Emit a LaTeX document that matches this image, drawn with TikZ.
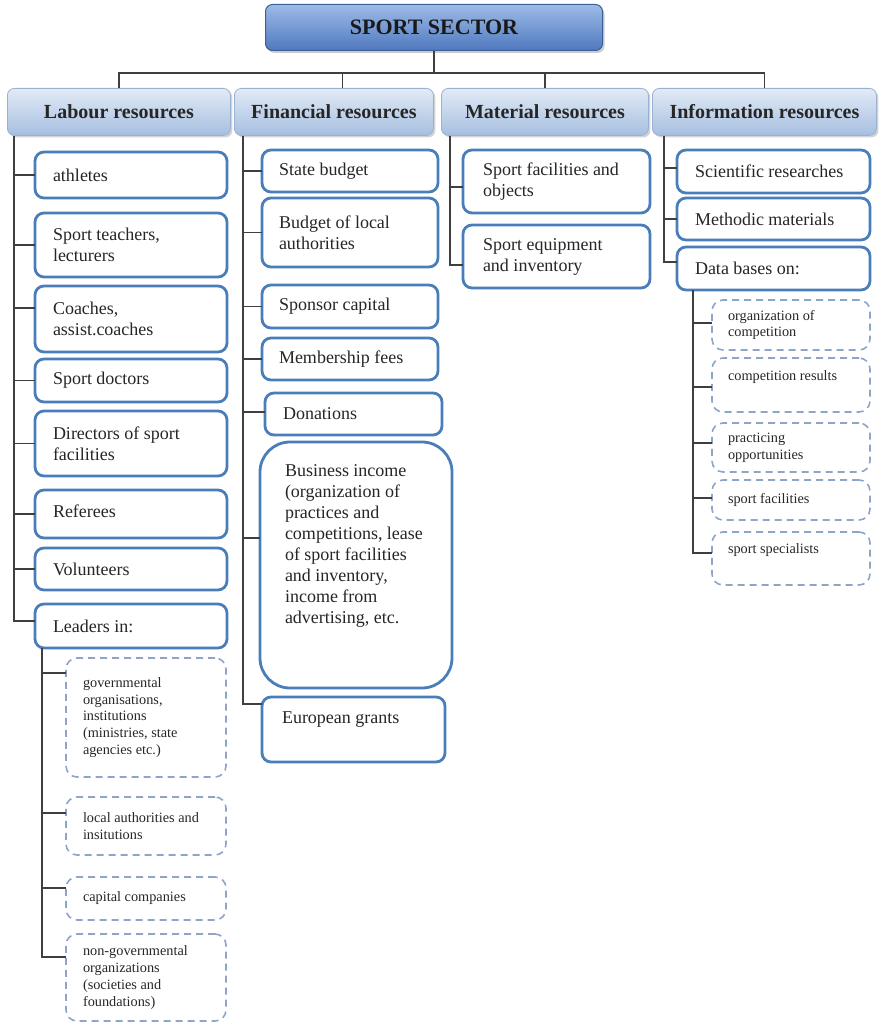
\documentclass[tikz,border=0pt]{standalone}
\usepackage{fontspec}
\setmainfont{Liberation Serif}
\usetikzlibrary{calc,shadows}
\definecolor{boxblue}{HTML}{4A7EBB}
\definecolor{dashblue}{HTML}{8DA5CB}
\definecolor{lnk}{HTML}{3F3F3F}
\definecolor{txt}{HTML}{262626}
\definecolor{hdrtop}{HTML}{E2EAF6}
\definecolor{hdrbot}{HTML}{A6BFE0}
\definecolor{hdrline}{HTML}{9AB1D2}
\definecolor{ttop}{HTML}{9DBBE8}
\definecolor{tbot}{HTML}{4F79BE}
\definecolor{tline}{HTML}{3C5F98}
\newcommand\drawbox[9]{%
  \node[#2, anchor=north west, inner sep=0pt, outer sep=0pt] (#1) at (#3,#4)
  {\hspace*{#7pt}\parbox[c][\dimexpr #6pt-#4pt\relax][c]{\dimexpr #5pt-#3pt-#7pt\relax}{\raggedright #9\par\vspace{#8pt}}};}
\begin{document}
\begin{tikzpicture}[x=1pt,y=-1pt,
  solid/.style={draw=boxblue, line width=2.8pt, rounded corners=9pt, fill=white, text=txt, font=\fontsize{18}{21}\selectfont},
  solidbig/.style={solid, rounded corners=30pt},
  dsh/.style={draw=dashblue, line width=1.6pt, dash pattern=on 7pt off 5pt, rounded corners=11pt, text=txt, font=\fontsize{14.3}{16.7}\selectfont},
  hdr/.style={draw=hdrline, line width=0.8pt, rounded corners=7pt, top color=hdrtop, bottom color=hdrbot, text=txt, font=\bfseries\fontsize{20}{22}\selectfont, anchor=north west, inner sep=0pt, drop shadow={opacity=0.35, shadow xshift=2pt, shadow yshift=-2pt}},
  titlebox/.style={draw=tline, line width=1pt, rounded corners=7pt, top color=ttop, bottom color=tbot, text=black!90, font=\bfseries\fontsize{22}{24}\selectfont, anchor=north west, inner sep=0pt, drop shadow={opacity=0.4, shadow xshift=2pt, shadow yshift=-2.5pt}},
  conn/.style={draw=lnk, line width=1.3pt}]
\useasboundingbox (0,0) rectangle (879,1024);

% title and headers
\node[titlebox, minimum width=337pt, minimum height=46pt] (title) at (265,4) {SPORT SECTOR};
\node[hdr, minimum width=223pt, minimum height=47pt] (lab) at (7,88) {Labour resources};
\node[hdr, minimum width=199pt, minimum height=47pt] (fin) at (234,88) {Financial resources};
\node[hdr, minimum width=207pt, minimum height=47pt] (mat) at (441,88) {Material resources};
\node[hdr, minimum width=224pt, minimum height=47pt] (inf) at (652,88) {Information resources};

\coordinate (bus) at ($(title.south)+(0,22)$);
\draw[conn] (title.south) -- (bus);
\draw[conn] (bus) -| (lab.north);
\draw[conn] (bus) -| ($(fin.north)+(8.5,0)$);
\draw[conn] (bus) -| (mat.north);
\draw[conn] (bus) -| (inf.north);

% labour
\drawbox{ath}{solid}{35}{152}{227}{198}{18}{0}{athletes}
\drawbox{teach}{solid}{35}{213}{227}{277}{18}{0}{Sport teachers,\\lecturers}
\drawbox{coach}{solid}{35}{286}{227}{352}{18}{0}{Coaches,\\assist.coaches}
\drawbox{doc}{solid}{35}{359}{227}{402}{18}{0}{Sport doctors}
\drawbox{dir}{solid}{35}{411}{227}{476}{18}{0}{Directors of sport\\facilities}
\drawbox{ref}{solid}{35}{490}{227}{538}{18}{6}{Referees}
\drawbox{vol}{solid}{35}{548}{227}{590}{18}{0}{Volunteers}
\drawbox{lead}{solid}{35}{604}{227}{648}{18}{0}{Leaders in:}

\drawbox{gov}{dsh}{66}{658}{226}{777}{17}{0}{governmental\\organisations,\\institutions\\(ministries, state\\agencies etc.)}
\drawbox{loc}{dsh}{66}{797}{226}{855}{17}{0}{local authorities and\\insitutions}
\drawbox{cap}{dsh}{66}{877}{226}{920}{17}{0}{capital companies}
\drawbox{ngo}{dsh}{66}{934}{226}{1021}{17}{0}{non-governmental\\organizations\\(societies and\\foundations)}

\coordinate (labT) at ($(lab.south west)+(7,0)$);
\draw[conn] (labT) |- (ath.west) (labT) |- (teach.west) (labT) |- ([yshift=-22pt]coach.north west)
  (labT) |- (doc.west) (labT) |- (dir.west) (labT) |- (ref.west) (labT) |- (vol.west)
  (labT) |- ([yshift=-17pt]lead.north west);
\coordinate (leadT) at ($(lead.south west)+(7,0)$);
\draw[conn] (leadT) |- ([yshift=-15pt]gov.north west) (leadT) |- ([yshift=-16pt]loc.north west)
  (leadT) |- ([yshift=-11pt]cap.north west) (leadT) |- ([yshift=-23pt]ngo.north west);

% financial
\drawbox{state}{solid}{262}{150}{438}{192}{17}{0}{State budget}
\drawbox{bloc}{solid}{262}{198}{438}{267}{17}{0}{Budget of local\\authorities}
\drawbox{spon}{solid}{262}{285}{438}{328}{17}{0}{Sponsor capital}
\drawbox{memb}{solid}{262}{338}{438}{380}{17}{0}{Membership fees}
\drawbox{don}{solid}{265}{393}{442}{435}{18}{0}{Donations}
\drawbox{busi}{solidbig}{260}{442}{452}{688}{25}{38}{Business income\\(organization of\\practices and\\competitions, lease\\of sport facilities\\and inventory,\\income from\\advertising, etc.}
\drawbox{eu}{solid}{262}{697}{445}{762}{20}{19}{European grants}

\coordinate (finT) at ($(fin.south west)+(9,0)$);
\draw[conn] (finT) |- (state.west) (finT) |- (bloc.west) (finT) |- (spon.west) (finT) |- (memb.west)
  (finT) |- ([yshift=-19pt]don.north west) (finT) |- ([yshift=-96pt]busi.north west)
  (finT) |- ([yshift=-7pt]eu.north west);

% material
\drawbox{fac}{solid}{463}{150}{650}{213}{20}{0}{Sport facilities and\\objects}
\drawbox{equip}{solid}{463}{225}{650}{288}{20}{0}{Sport equipment\\and inventory}
\coordinate (matT) at ($(mat.south west)+(9,0)$);
\draw[conn] (matT) |- ([yshift=-37pt]fac.north west) (matT) |- ([yshift=-40pt]equip.north west);

% information
\drawbox{sci}{solid}{677}{150}{870}{193}{18}{0}{Scientific researches}
\drawbox{meth}{solid}{677}{198}{870}{240}{18}{0}{Methodic materials}
\drawbox{data}{solid}{677}{247}{870}{290}{18}{0}{Data bases on:}
\drawbox{org}{dsh}{712}{300}{870}{350}{16}{0}{organization of\\competition}
\drawbox{res}{dsh}{712}{358}{870}{412}{16}{16}{competition results}
\drawbox{prac}{dsh}{712}{423}{870}{472}{16}{0}{practicing\\opportunities}
\drawbox{sfac}{dsh}{712}{480}{870}{520}{16}{0}{sport facilities}
\drawbox{spec}{dsh}{712}{532}{870}{585}{16}{17}{sport specialists}

\coordinate (infT) at ($(inf.south west)+(12,0)$);
\draw[conn] (infT) |- ([yshift=-18pt]sci.north west) (infT) |- (meth.west) (infT) |- ([yshift=-15pt]data.north west);
\coordinate (dataT) at ($(data.south west)+(16,0)$);
\draw[conn] (dataT) |- ([yshift=-23pt]org.north west) (dataT) |- ([yshift=-29pt]res.north west)
  (dataT) |- ([yshift=-20pt]prac.north west) (dataT) |- ([yshift=-18pt]sfac.north west)
  (dataT) |- ([yshift=-21pt]spec.north west);
\end{tikzpicture}
\end{document}
